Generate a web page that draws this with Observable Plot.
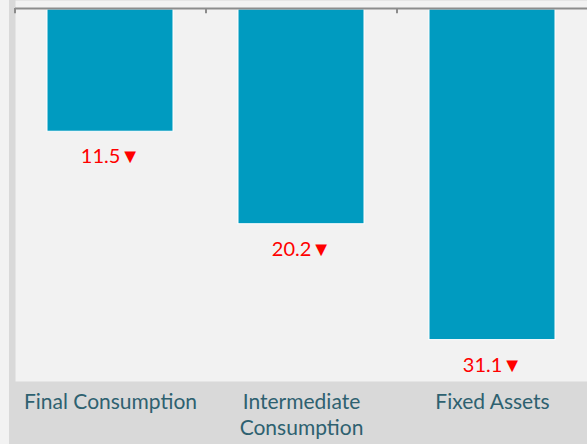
<!DOCTYPE html>
<html>
<head>
<meta charset="utf-8">
<script src="https://cdn.jsdelivr.net/npm/d3@7"></script>
<script src="https://cdn.jsdelivr.net/npm/@observablehq/plot@0.6"></script>
<style>
  html, body { margin: 0; padding: 0; background: #f2f2f2; }
  #chart { position: absolute; left: 9px; top: 0; }
  #chart svg { display: block; }
</style>
</head>
<body>
<div id="chart"></div>
<script>
const categories = ["Final Consumption", "Intermediate Consumption", "Fixed Assets"];
const axisLabels = ["Final Consumption", "Intermediate\nConsumption", "Fixed Assets"];
const values = [11.5, 20.2, 31.1];
const valueLabels = ["11.5▼", "20.2▼", "31.1▼"];

const data = categories.map((c, i) => ({cat: c, value: values[i], label: valueLabels[i]}));
const labelOf = new Map(categories.map((c, i) => [c, axisLabels[i]]));

const W = 578, H = 444, ML = 6, MB = 63;
const xRange = [ML, W + 1];
const step = (xRange[1] - xRange[0]) / categories.length;

const chart = Plot.plot({
  width: W,
  height: H,
  marginLeft: ML,
  marginRight: 0,
  marginTop: 0,
  marginBottom: MB,
  style: {background: "#d9d9d9", fontFamily: "Lato, sans-serif", overflow: "hidden"},
  x: {domain: categories, range: xRange, paddingInner: 0.34, paddingOuter: 0.17, axis: null},
  y: {domain: [0, 34.9], range: [9, 380], axis: null},
  marks: [
    Plot.frame({fill: "#f2f2f2", stroke: null}),
    Plot.barY(data, {x: "cat", y: "value", fill: "#009bc0", stroke: "#ffffff", strokeWidth: 1}),
    Plot.ruleY([0], {stroke: "#8c8c8c", strokeWidth: 2, dy: -1}),
    Plot.ruleX(categories, {x: d => d, y1: 0, y2: 0.5, dx: -step / 2, dy: -1, stroke: "#8c8c8c", strokeWidth: 2}),
    Plot.text(data, {x: "cat", y: "value", text: "label", dy: 25, fill: "#ff0000", fontSize: 20}),
    Plot.axisX({
      anchor: "bottom",
      label: null,
      tickSize: 0,
      tickPadding: 9,
      fontSize: 21,
      lineHeight: 1.25,
      color: "#2e6170",
      tickFormat: d => labelOf.get(d)
    })
  ]
});
document.getElementById("chart").append(chart);
</script>
</body>
</html>
